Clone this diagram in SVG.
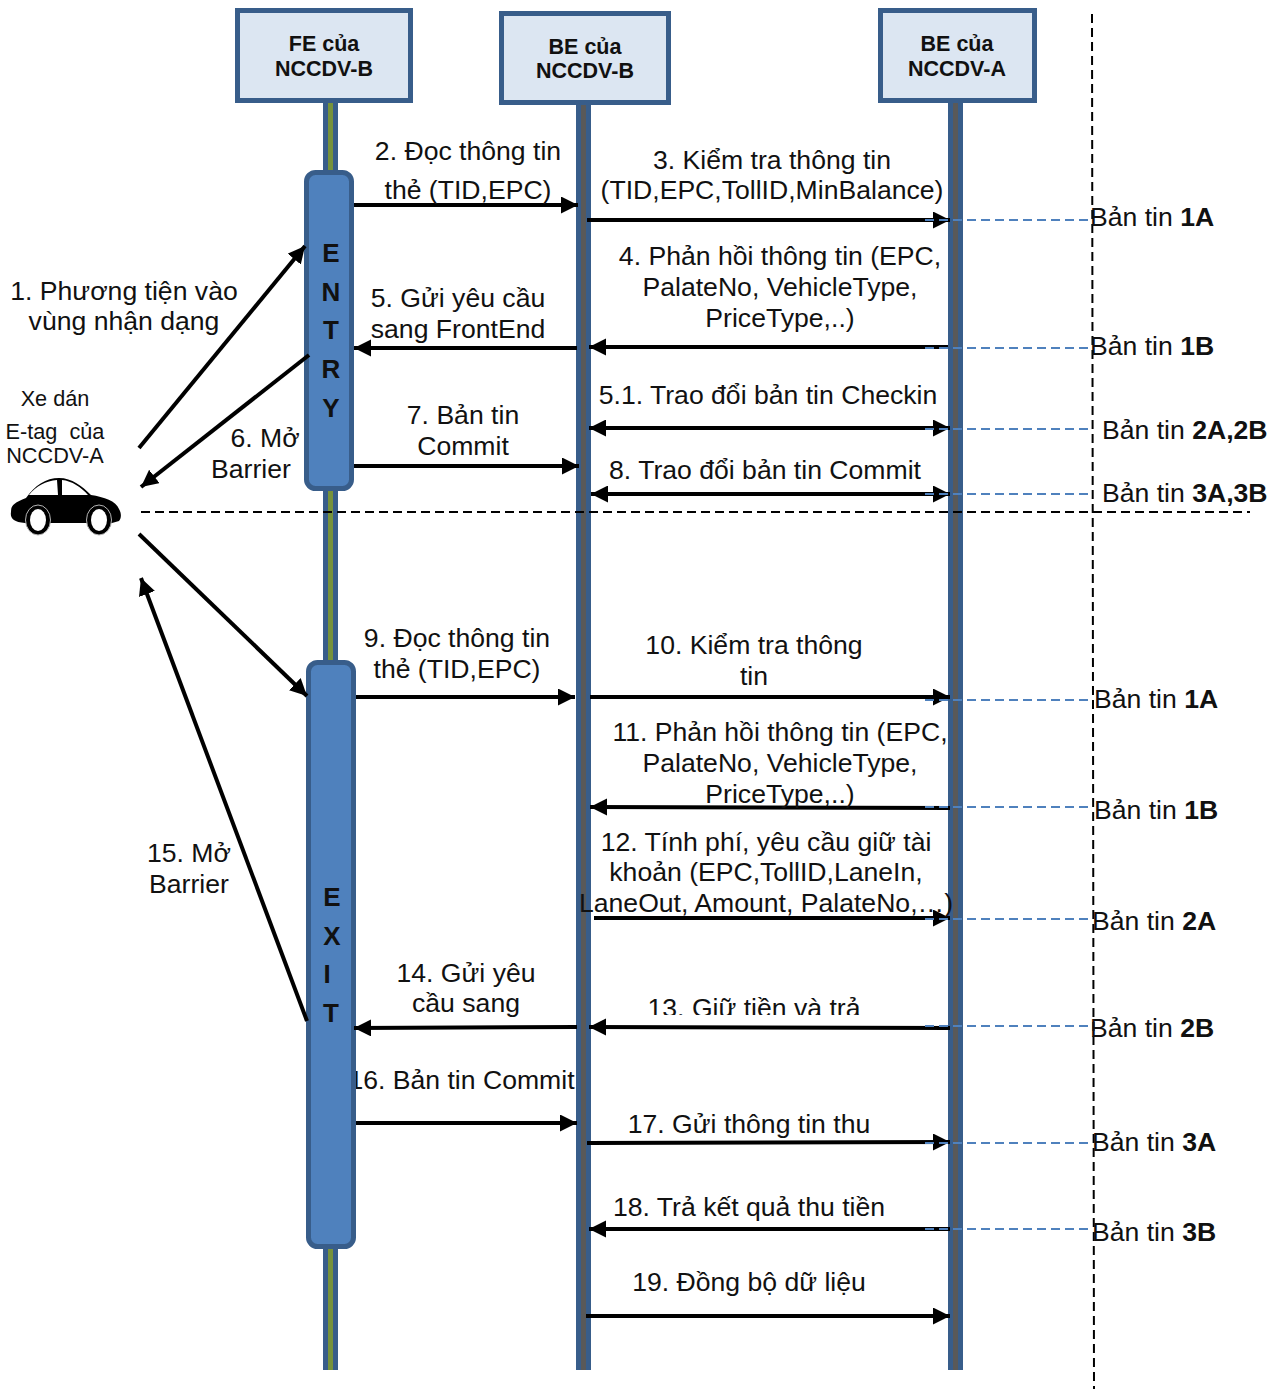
<svg xmlns="http://www.w3.org/2000/svg" width="1281" height="1389" viewBox="0 0 1281 1389">
<style>
text{font-family:"Liberation Sans",Arial,sans-serif;font-size:26.6px;fill:#111;text-anchor:middle}
.s{font-size:21.7px}
.h{font-size:21.5px;font-weight:bold}
.b{font-size:26px;font-weight:bold}
.l{text-anchor:start}
.box{fill:#dce6f2;stroke:#385d8a;stroke-width:5}
.life{fill:#385d8a}
.bar{fill:#4f81bd;stroke:#385d8a;stroke-width:5}
.c{fill:none;stroke:#000;stroke-width:4}
.d{fill:none;stroke:#4f81bd;stroke-width:2;stroke-dasharray:9 5}
.k{fill:none;stroke:#000;stroke-width:2;stroke-dasharray:9 5}
</style>
<defs>
<marker id="a" markerUnits="userSpaceOnUse" markerWidth="18" markerHeight="18" refX="17" refY="8.500" orient="auto"><path d="M0 0L17 8.500L0 17z" fill="#000"/></marker>
<marker id="r" markerUnits="userSpaceOnUse" markerWidth="18" markerHeight="18" refX="0" refY="8.500" orient="auto"><path d="M17 0L0 8.500L17 17z" fill="#000"/></marker>
<clipPath id="clip13"><rect x="600" y="980" width="300" height="35"/></clipPath>
</defs>
<g id="lifeline-fe"><rect class="life" x="323" y="100" width="15" height="1270"/><rect x="328" y="100" width="5" height="1270" fill="#76923c"/></g>
<g id="lifeline-be-b"><rect class="life" x="576" y="100" width="15" height="1270"/><rect x="581" y="100" width="5" height="1270" fill="#595959"/></g>
<g id="lifeline-be-a"><rect class="life" x="948" y="100" width="15" height="1270"/><rect x="953" y="100" width="5" height="1270" fill="#595959"/></g>
<text x="461.500" y="1089">16. Bản tin Commit</text>
<g id="node-fe"><rect class="box" x="237.500" y="10.500" width="173" height="90"/><text class="h" x="324" y="51">FE của</text><text class="h" x="324" y="76">NCCDV-B</text></g>
<g id="node-be-b"><rect class="box" x="501.500" y="13.500" width="167" height="89"/><text class="h" x="585" y="54">BE của</text><text class="h" x="585" y="78">NCCDV-B</text></g>
<g id="node-be-a"><rect class="box" x="880.500" y="10.500" width="154" height="90"/><text class="h" x="957" y="51">BE của</text><text class="h" x="957" y="76">NCCDV-A</text></g>
<g id="node-entry"><rect class="bar" x="306.500" y="172.500" width="45" height="316" rx="9"/><text class="b" x="331" y="262">E</text><text class="b" x="331" y="301">N</text><text class="b" x="331" y="339">T</text><text class="b" x="331" y="378">R</text><text class="b" x="331" y="417">Y</text></g>
<g id="node-exit"><rect class="bar" x="308.500" y="662.500" width="45" height="584" rx="9"/><text class="b" x="332" y="906">E</text><text class="b" x="332" y="945">X</text><text class="b" x="327" y="983">I</text><text class="b" x="331" y="1022">T</text></g>
<g id="node-car">
<text class="s" x="55" y="406">Xe dán</text>
<text class="s" x="55" y="439" xml:space="preserve">E-tag  của</text>
<text class="s" x="55" y="463">NCCDV-A</text>
<path d="M11 512C11 505 14 503 26 498C35 485 46 478 59 478C72 478 82 486 91 495C104 497 116 501 119 509C122 514 121 519 119 521L112 523L25 523C13 522 10 518 11 512Z" fill="#000"/>
<path d="M29 495C36 486 46 481 57 480L58 495ZM62 480C72 481 81 487 88 495L62 495Z" fill="#fff"/>
<ellipse cx="38" cy="520" rx="12.500" ry="15" fill="#000" stroke="#b5b5b5" stroke-width="1"/><ellipse cx="38" cy="520" rx="8" ry="11" fill="#fff"/>
<ellipse cx="99" cy="520" rx="12.500" ry="15" fill="#000" stroke="#b5b5b5" stroke-width="1"/><ellipse cx="99" cy="520" rx="8" ry="11" fill="#fff"/>
</g>
<g id="connectors">
<path class="c" d="M139 448L305 246" marker-end="url(#a)"/>
<path class="c" d="M309 355L141 487" marker-end="url(#a)"/>
<path class="c" d="M139 534L307 696" marker-end="url(#a)"/>
<path class="c" d="M307 1021L141 578" marker-end="url(#a)"/>
<path class="c" d="M354 205H578" marker-end="url(#a)"/>
<path class="c" d="M587 220H950" marker-end="url(#a)"/>
<path class="c" d="M948 347H589" marker-end="url(#a)"/>
<path class="c" d="M577 348H354" marker-end="url(#a)"/>
<path class="c" d="M354 466H579" marker-end="url(#a)"/>
<path class="c" d="M589 428H950" marker-end="url(#a)" marker-start="url(#r)"/>
<path class="c" d="M591 494H950" marker-end="url(#a)" marker-start="url(#r)"/>
<path class="c" d="M356 697H575" marker-end="url(#a)"/>
<path class="c" d="M590 697H950" marker-end="url(#a)"/>
<path class="c" d="M950 808L590 807" marker-end="url(#a)"/>
<path class="c" d="M594 918H950" marker-end="url(#a)"/>
<path class="c" d="M950 1028L589 1027" marker-end="url(#a)"/>
<path class="c" d="M577 1027L354 1028" marker-end="url(#a)"/>
<path class="c" d="M356 1123H577" marker-end="url(#a)"/>
<path class="c" d="M587 1143L950 1142" marker-end="url(#a)"/>
<path class="c" d="M950 1229H589" marker-end="url(#a)"/>
<path class="c" d="M586 1316H950" marker-end="url(#a)"/>
<path class="d" d="M925 220H1090M925 348H1090M925 429H1090M925 494H1090M925 700H1090M925 807H1090M925 919H1090M925 1026H1090M925 1143H1090M925 1229H1090"/>
<path class="k" d="M1092 14L1094 1389"/>
<path class="k" d="M141 512H1250"/>
</g>
<g id="labels">
<text x="124" y="300">1. Phương tiện vào</text>
<text x="124" y="330">vùng nhận dạng</text>
<text x="468" y="160">2. Đọc thông tin</text>
<text x="468" y="199">thẻ (TID,EPC)</text>
<text x="772" y="169">3. Kiểm tra thông tin</text>
<text x="772" y="199">(TID,EPC,TollID,MinBalance)</text>
<text x="780" y="265">4. Phản hồi thông tin (EPC,</text>
<text x="780" y="296">PalateNo, VehicleType,</text>
<text x="780" y="327">PriceType,..)</text>
<text x="458" y="307">5. Gửi yêu cầu</text>
<text x="458" y="338">sang FrontEnd</text>
<text x="768" y="404">5.1. Trao đổi bản tin Checkin</text>
<text x="265" y="447">6. Mở</text>
<text x="251" y="478">Barrier</text>
<text x="463" y="424">7. Bản tin</text>
<text x="463" y="455">Commit</text>
<text x="765" y="479">8. Trao đổi bản tin Commit</text>
<text x="457" y="647">9. Đọc thông tin</text>
<text x="457" y="678">thẻ (TID,EPC)</text>
<text x="754" y="654">10. Kiểm tra thông</text>
<text x="754" y="685">tin</text>
<text x="780" y="741">11. Phản hồi thông tin (EPC,</text>
<text x="780" y="772">PalateNo, VehicleType,</text>
<text x="780" y="803">PriceType,..)</text>
<text x="766" y="851">12. Tính phí, yêu cầu giữ tài</text>
<text x="766" y="881">khoản (EPC,TollID,LaneIn,</text>
<text x="766" y="912">LaneOut, Amount, PalateNo,…)</text>
<text x="754" y="1017" clip-path="url(#clip13)">13. Giữ tiền và trả</text>
<text x="466" y="982">14. Gửi yêu</text>
<text x="466" y="1012">cầu sang</text>
<text x="189" y="862">15. Mở</text>
<text x="189" y="893">Barrier</text>
<text x="749" y="1133">17. Gửi thông tin thu</text>
<text x="749" y="1216">18. Trả kết quả thu tiền</text>
<text x="749" y="1291">19. Đồng bộ dữ liệu</text>
<text class="l" x="1090" y="226">Bản tin <tspan font-weight="bold">1A</tspan></text>
<text class="l" x="1090" y="355">Bản tin <tspan font-weight="bold">1B</tspan></text>
<text class="l" x="1102" y="439">Bản tin <tspan font-weight="bold">2A,2B</tspan></text>
<text class="l" x="1102" y="502">Bản tin <tspan font-weight="bold">3A,3B</tspan></text>
<text class="l" x="1094" y="708">Bản tin <tspan font-weight="bold">1A</tspan></text>
<text class="l" x="1094" y="819">Bản tin <tspan font-weight="bold">1B</tspan></text>
<text class="l" x="1092" y="930">Bản tin <tspan font-weight="bold">2A</tspan></text>
<text class="l" x="1090" y="1037">Bản tin <tspan font-weight="bold">2B</tspan></text>
<text class="l" x="1092" y="1151">Bản tin <tspan font-weight="bold">3A</tspan></text>
<text class="l" x="1092" y="1241">Bản tin <tspan font-weight="bold">3B</tspan></text>
</g>
</svg>
